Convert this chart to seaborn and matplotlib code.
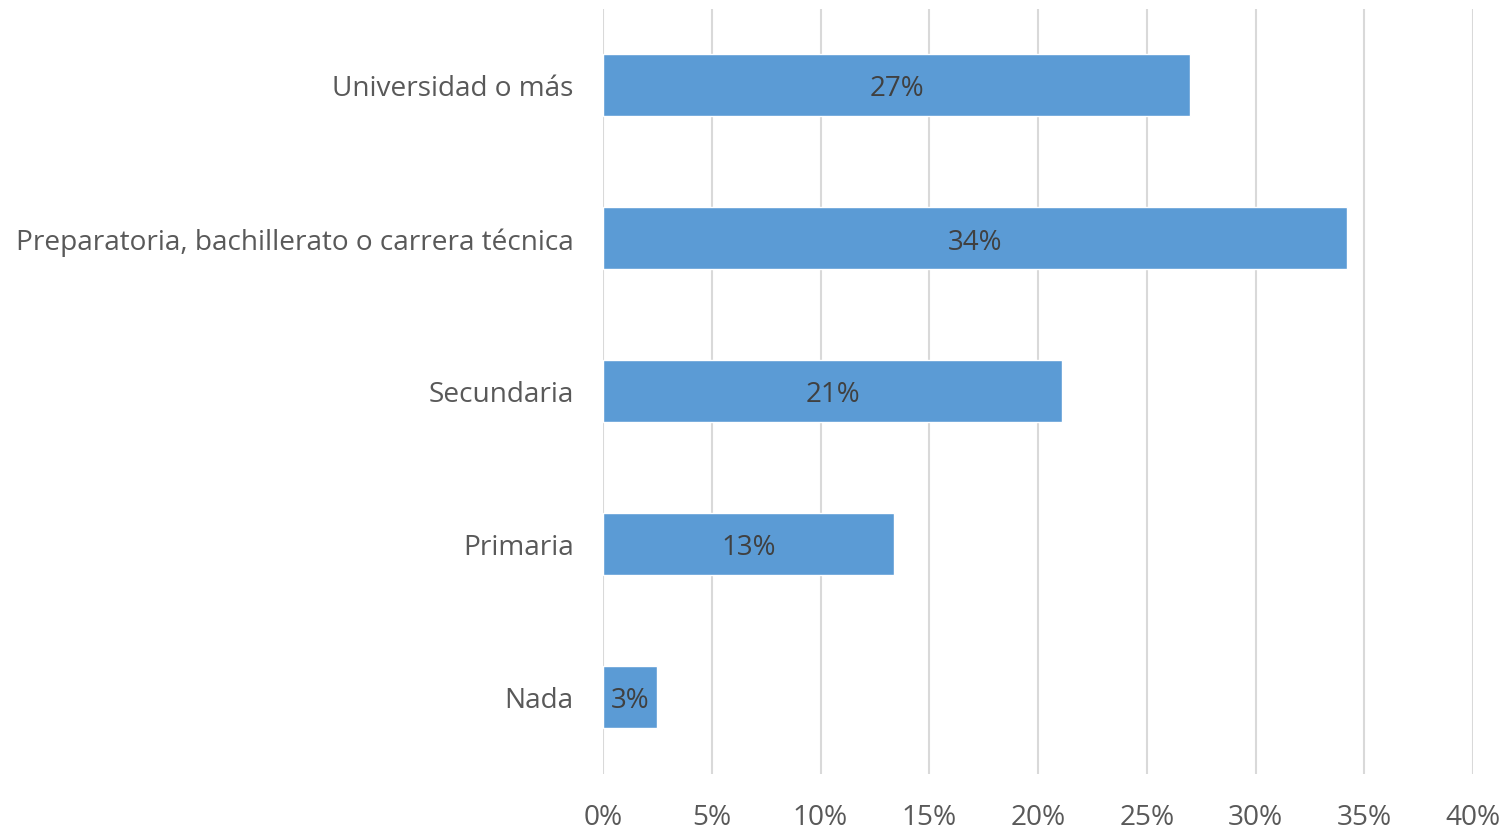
import math
import matplotlib
matplotlib.use("Agg")
import matplotlib.pyplot as plt
import seaborn as sns
import pandas as pd

categories = [
    "Universidad o más",
    "Preparatoria, bachillerato o carrera técnica",
    "Secundaria",
    "Primaria",
    "Nada",
]
values = [27.0, 34.2, 21.1, 13.4, 2.5]
x_ticks = [0, 5, 10, 15, 20, 25, 30, 35, 40]

df = pd.DataFrame({"nivel": categories, "pct": values})

sns.set_theme(style="white")
plt.rcParams["font.family"] = ["Open Sans", "DejaVu Sans"]

fig = plt.figure(figsize=(15.11, 8.29), dpi=100)
ax = fig.add_axes([603 / 1511, 1 - 774.5 / 829, 870 / 1511, 765 / 829])

sns.barplot(data=df, x="pct", y="nivel", order=categories, color="#5B9BD5",
            saturation=1, width=0.4, ax=ax, zorder=3)

ax.set_xlim(0, 40)
ax.set_ylim(4.5, -0.5)
ax.set_xticks(x_ticks)
ax.set_xticklabels([f"{t}%" for t in x_ticks])
ax.xaxis.grid(True, color="#D9D9D9", linewidth=1.5, zorder=0)
ax.yaxis.grid(False)
for s in ax.spines.values():
    s.set_visible(False)
ax.tick_params(axis="both", length=0, labelsize=20.2, colors="#595959")
ax.tick_params(axis="x", pad=21)
ax.tick_params(axis="y", pad=21)
ax.set_xlabel("")
ax.set_ylabel("")

for i, v in enumerate(values):
    ax.text(v / 2, i, f"{math.floor(v + 0.5):d}%", ha="center",
            va="center_baseline", fontsize=20, color="#404040", zorder=4)

fig.savefig("out.png", dpi=100, facecolor="white")
